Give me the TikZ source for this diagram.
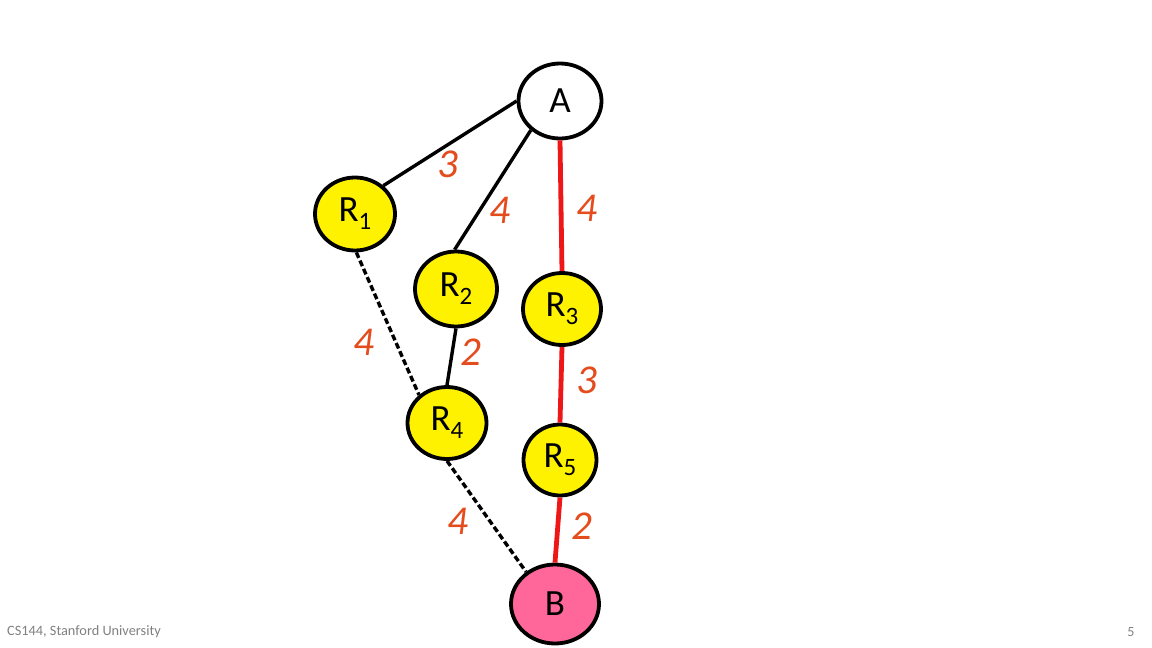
\documentclass[tikz,border=0pt]{standalone}
\usepackage{fontspec}
\setmainfont{Carlito}
\usepackage{xcolor}
\usepackage{tikz}
\usetikzlibrary{shapes.geometric, positioning}
\definecolor{costorange}{RGB}{228,76,30}
\definecolor{hostpink}{RGB}{255,102,153}
\definecolor{pathred}{RGB}{238,22,22}
\definecolor{footgray}{RGB}{128,128,128}
\newcommand{\rsub}[1]{\raisebox{-8pt}{\fontsize{25}{27}\selectfont #1}}
\tikzset{
router/.style={ellipse, draw, line width=3.8pt, fill=yellow, inner sep=0pt,
  minimum width=79pt, minimum height=74pt, font=\fontsize{37}{40}\selectfont}, % yellow routers
host/.style={router, fill=white}, % end hosts
link/.style={draw, line width=3.4pt}, % plain link
backup/.style={link, dash pattern=on 6pt off 3pt}, % dashed link
best/.style={draw=pathred, line width=4.8pt}, % the shortest path
cost/.style={text=costorange, font=\fontsize{41}{44}\selectfont\itshape, inner sep=0pt}, % link costs
foot/.style={text=footgray, inner sep=0pt},
}
\begin{document}
\begin{tikzpicture}[x=1pt, y=-1pt]
    \useasboundingbox (0,0) rectangle (1152,648);

    \node[host, minimum width=83pt, minimum height=75pt] (A) at (560,101) {A};
    \node[router, minimum width=80pt, minimum height=73pt] (R1) at (355,214) {R\rsub{1}};
    \node[router, minimum width=82pt, minimum height=75pt] (R2) at (456,289) {R\rsub{2}};
    \node[router, minimum width=78pt, minimum height=72pt] (R3) at (562,309) {R\rsub{3}};
    \node[router, minimum width=79pt, minimum height=72pt] (R4) at (447,423) {R\rsub{4}};
    \node[router, minimum width=73pt, minimum height=71pt] (R5) at (560,460) {R\rsub{5}};
    \node[host, fill=hostpink, minimum width=88pt, minimum height=79pt] (B) at (555,604) {B};

    \draw   (A.180) edge[link] node[cost, xshift=-2pt, yshift=-21pt] {3} (R1.45)
            (A.225) edge[link] node[cost, xshift=7pt, yshift=-20pt] {4} (R2.92)
            (R2.south) edge[link] node[cost, xshift=19pt, yshift=5pt] {2} (R4.north)
            (R1.272) edge[backup] node[cost, xshift=-24pt, yshift=-19pt] {4} (R4.135)
            (R4.south) edge[backup] node[cost, xshift=-29pt, yshift=-5pt] {4} (B.132);

    \draw   (A.south) edge[best] node[cost, xshift=26pt, yshift=-3pt] {4} (R3.north)
            (R3.south) edge[best] node[cost, xshift=26pt, yshift=4pt] {3} (R5.north)
            (R5.south) edge[best] node[cost, xshift=24pt, yshift=4pt] {2} (B.north);

    \node[foot, anchor=base west, font=\fontsize{14.3}{16}\selectfont] (course) at (7,635) {CS144, Stanford University};
    \node[foot, anchor=base, font=\fontsize{14}{16}\selectfont] (page) at (1131,636) {5};
\end{tikzpicture}
\end{document}
